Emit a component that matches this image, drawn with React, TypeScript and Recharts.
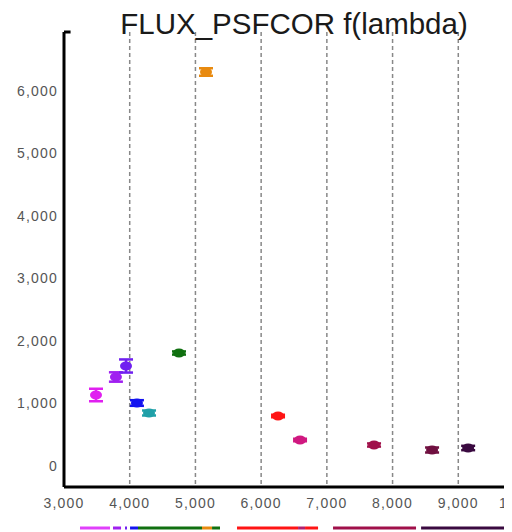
import React from 'react';
import { ComposedChart, Scatter, ErrorBar, Line, XAxis, YAxis, CartesianGrid, ReferenceLine } from 'recharts';

// photometric points
const filters = ['u', 'g1', 'g2', 'b1', 'b2', 'v', 'o', 'r', 'h', 'i', 'z1', 'z2'];
const wavelengths = [3487, 3790, 3944, 4110, 4294, 4750, 5161, 6257, 6592, 7718, 8601, 9150];
const fluxes = [1136, 1424, 1600, 1008, 848, 1808, 6304, 800, 416, 336, 256, 288];
const errors = [100, 75, 105, 45, 40, 25, 60, 20, 20, 25, 40, 35];
const colors = ['#e020f0', '#a020f0', '#7020f0', '#1414f0', '#20a0a8', '#107010', '#e88a10', '#ff1414', '#d01880', '#a0104a', '#701040', '#3a0a40'];

// filter band coverage along the bottom
const bandStarts = [3243, 3746, 3928, 4005, 4126, 5100, 5253, 5633, 6562, 6668, 7094, 8434];
const bandEnds = [3700, 3868, 3959, 4126, 5100, 5253, 5374, 6562, 6668, 6866, 8357, 9788];
const bandColors = ['#e040fb', '#a020f0', '#7020f0', '#1414f0', '#107010', '#e88a10', '#107010', '#ff1414', '#b02070', '#ff1414', '#a0104a', '#3a0a40'];

const xTicks = [3000, 4000, 5000, 6000, 7000, 8000, 9000, 10000];
const yTicks = [0, 1000, 2000, 3000, 4000, 5000, 6000];

const X_DOMAIN: [number, number] = [3000, 10000];
const Y_DOMAIN: [number, number] = [-336, 6944];
const W = 540;
const fmt = (v: number) => String(v).replace(/\B(?=(\d{3})+(?!\d))/g, ',');
const tickStyle = { fill: '#555', fontSize: 14, letterSpacing: 1.2, fontFamily: 'Liberation Sans, Arial, sans-serif' };

const App: React.FC = () => {
    return (
        <div style={{ width: 504, height: 524, overflow: 'hidden', position: 'relative', background: '#fff' }}>
            <div
                style={{
                    position: 'absolute', left: 56, width: 460, top: 1, textAlign: 'center',
                    fontFamily: 'Liberation Sans, Arial, sans-serif', fontSize: 29.5, lineHeight: 1,
                    color: '#1a1a1a', zIndex: 2, whiteSpace: 'nowrap',
                }}
            >
                FLUX_PSFCOR f(lambda)
            </div>
            <ComposedChart width={W} height={505} margin={{ top: 24, right: 24, bottom: 0, left: 6 }}>
                <CartesianGrid horizontal={false} stroke="#888" strokeDasharray="4 3" strokeWidth={1.5} />
                <XAxis
                    dataKey="x" type="number" domain={X_DOMAIN} ticks={xTicks} tickFormatter={fmt}
                    axisLine={{ stroke: '#000', strokeWidth: 3 }} tickLine={false} tick={tickStyle}
                    tickMargin={5} height={26} allowDataOverflow
                />
                <YAxis
                    dataKey="y" type="number" domain={Y_DOMAIN} ticks={yTicks} tickFormatter={fmt}
                    axisLine={{ stroke: '#000', strokeWidth: 3 }} tickLine={false} tick={tickStyle}
                    tickMargin={0} width={50} allowDataOverflow
                />
                <ReferenceLine
                    segment={[{ x: 3000, y: Y_DOMAIN[1] }, { x: 3100, y: Y_DOMAIN[1] }]}
                    stroke="#000" strokeWidth={3}
                />
                {wavelengths.map((w, i) => (
                    <Scatter
                        key={filters[i]}
                        name={filters[i]}
                        data={[{ x: w, y: fluxes[i], err: errors[i] }]}
                        fill={colors[i]}
                        isAnimationActive={false}
                        shape={(p: any) => <ellipse cx={p.cx} cy={p.cy} rx={6} ry={4.5} fill={colors[i]} />}
                    >
                        <ErrorBar dataKey="err" direction="y" width={7} stroke={colors[i]} strokeWidth={2.5} />
                    </Scatter>
                ))}
            </ComposedChart>
            <ComposedChart width={W} height={20} margin={{ top: 0, right: 24, bottom: 0, left: 56 }}>
                <XAxis dataKey="x" type="number" domain={X_DOMAIN} hide allowDataOverflow />
                <YAxis type="number" domain={[0, 1]} hide />
                {bandStarts.map((s, i) => (
                    <Line
                        key={i}
                        data={[{ x: s, y: 0.25 }, { x: bandEnds[i], y: 0.25 }]}
                        dataKey="y"
                        stroke={bandColors[i]}
                        strokeWidth={3}
                        dot={false}
                        isAnimationActive={false}
                    />
                ))}
            </ComposedChart>
        </div>
    );
};

export default App;
